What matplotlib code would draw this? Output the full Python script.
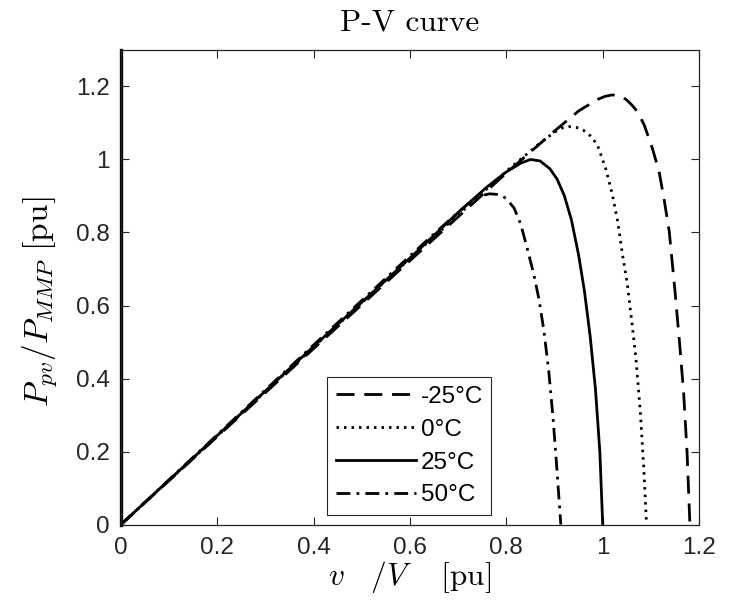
import numpy as np
import matplotlib
matplotlib.use("Agg")
import matplotlib.pyplot as plt

plt.rcParams['font.family'] = ['Liberation Sans', 'DejaVu Sans']
plt.rcParams['mathtext.fontset'] = 'cm'

# values (v in pu, P in pu)
v_m25 = [0, 0.2, 0.4, 0.6, 0.8, 0.90, 0.95, 0.99, 1.005, 1.02, 1.035, 1.048, 1.060, 1.072,
         1.086, 1.103, 1.117, 1.127, 1.138, 1.150, 1.160, 1.168, 1.175, 1.181]
p_m25 = [0, 0.241, 0.482, 0.723, 0.963, 1.078, 1.133, 1.165, 1.173, 1.177, 1.174, 1.165,
         1.150, 1.131, 1.095, 1.031, 0.967, 0.894, 0.804, 0.64, 0.49, 0.36, 0.20, 0.0]

v_0 = [0, 0.2, 0.4, 0.6, 0.8, 0.87, 0.90, 0.915, 0.93, 0.945, 0.96, 0.975, 0.989, 1.006,
       1.020, 1.031, 1.041, 1.051, 1.060, 1.069, 1.078, 1.085, 1.091]
p_0 = [0, 0.243, 0.486, 0.729, 0.968, 1.045, 1.075, 1.086, 1.090, 1.088, 1.080, 1.064,
       1.040, 0.976, 0.904, 0.831, 0.740, 0.660, 0.560, 0.455, 0.31, 0.16, 0.0]

v_25 = [0, 0.2, 0.4, 0.6, 0.70, 0.76, 0.80, 0.83, 0.85, 0.87, 0.89, 0.905, 0.92, 0.935,
        0.95, 0.962, 0.974, 0.985, 0.994, 1.0]
p_25 = [0, 0.244, 0.488, 0.730, 0.855, 0.925, 0.966, 0.990, 1.000, 0.996, 0.975, 0.947,
        0.902, 0.835, 0.738, 0.640, 0.515, 0.370, 0.200, 0.0]

v_50 = [0, 0.2, 0.4, 0.6, 0.68, 0.72, 0.745, 0.765, 0.785, 0.80, 0.816, 0.830, 0.843,
        0.857, 0.868, 0.878, 0.888, 0.897, 0.905, 0.913]
p_50 = [0, 0.246, 0.492, 0.736, 0.832, 0.878, 0.900, 0.906, 0.904, 0.893, 0.867, 0.822,
        0.758, 0.685, 0.615, 0.530, 0.420, 0.290, 0.150, 0.0]

# start-up spike at v = 0
v_start = [0, 0]
p_start = [0, 1.3]

labels = ['-25°C', '0°C', '25°C', '50°C']

fig = plt.figure(figsize=(7.44, 6.08), dpi=100)
ax = fig.add_axes([0.1626, 0.1373, 0.777, 0.7805])

lw = 2.0
ax.plot(v_start, p_start, color='k', lw=2.4, clip_on=False)
ax.plot(v_m25, p_m25, color='k', lw=lw, dashes=(6.5, 3.5), label=labels[0])
ax.plot(v_0, p_0, color='k', lw=lw, dashes=(0.9, 1.8), label=labels[1])
ax.plot(v_25, p_25, color='k', lw=lw, label=labels[2])
ax.plot(v_50, p_50, color='k', lw=lw, dashes=(5, 2.2, 1, 2.2), label=labels[3])

ax.set_xlim(0, 1.2)
ax.set_ylim(0, 1.3)
ax.set_xticks(np.arange(0, 1.21, 0.2))
ax.set_yticks(np.arange(0, 1.21, 0.2))
ax.set_xticklabels(['0', '0.2', '0.4', '0.6', '0.8', '1', '1.2'])
ax.set_yticklabels(['0', '0.2', '0.4', '0.6', '0.8', '1', '1.2'])
ax.tick_params(direction='in', top=True, right=True, length=6, width=0.8,
               labelsize=17.5, colors='0.15')
ax.tick_params(axis='x', pad=9)
ax.tick_params(axis='y', pad=8)
for s in ax.spines.values():
    s.set_color('0.15')
    s.set_linewidth(0.9)

ax.set_title('P-V curve', fontsize=22.5, family='cmr10', pad=14)
ax.set_xlabel(r'$v\quad/V\quad\ [\mathrm{pu}]$', fontsize=22.5, labelpad=0)
ax.set_ylabel(r'$P_{pv}/P_{MMP}\ [\mathrm{pu}]$', fontsize=24)
ax.yaxis.set_label_coords(-0.108, 0.47)

leg = ax.legend(loc='lower left', bbox_to_anchor=(327 / 744, (608 - 515) / 608),
                bbox_transform=fig.transFigure, fontsize=17.5, handlelength=3.3,
                handletextpad=0.2, labelspacing=0.45, borderpad=0.35,
                borderaxespad=0, fancybox=False, framealpha=1)
leg.get_frame().set_edgecolor('0.15')
leg.get_frame().set_linewidth(0.8)

fig.savefig('out.png', dpi=100)
